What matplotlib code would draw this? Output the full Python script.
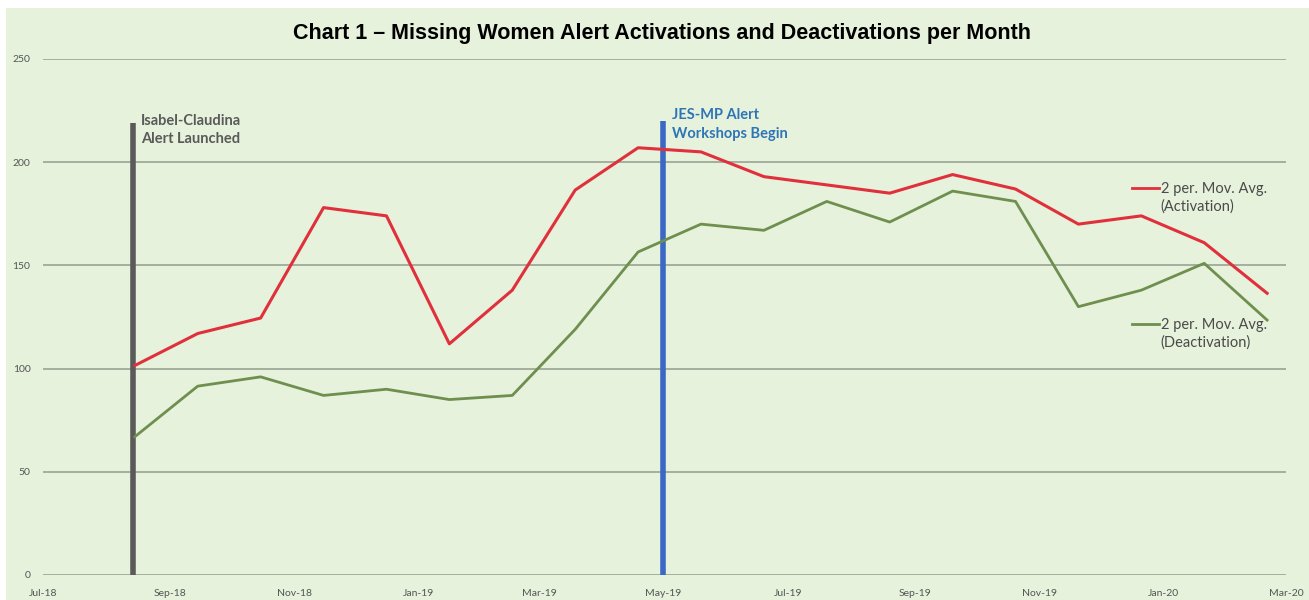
import matplotlib
matplotlib.use("Agg")

import matplotlib.pyplot as plt
import matplotlib.dates as mdates
import pandas as pd

# --- data ---
months = [
    "Aug-18", "Sep-18", "Oct-18", "Nov-18", "Dec-18",
    "Jan-19", "Feb-19", "Mar-19", "Apr-19", "May-19",
    "Jun-19", "Jul-19", "Aug-19", "Sep-19", "Oct-19",
    "Nov-19", "Dec-19", "Jan-20", "Feb-20",
]
activation_avg = [101.5, 117, 124.5, 178, 174, 112, 138, 186.5, 207, 205,
                  193, 189, 185, 194, 187, 170, 174, 161, 136.5]
deactivation_avg = [67, 91.5, 96, 87, 90, 85, 87, 119, 156.5, 170,
                    167, 181, 171, 186, 181, 130, 138, 151, 123.5]

events = ["Isabel-Claudina\nAlert Launched", "JES-MP Alert\nWorkshops Begin"]
event_dates = ["2018-08-14", "2019-05-01"]
event_tops = [219, 220]

BG = "#e6f2dc"
RED = "#e0303c"
GREEN = "#6e8f4e"
GRID = "#9aa393"
TICK = "#555555"
LABEL = "#4a4a4a"

ev_dates = pd.to_datetime(event_dates)

fig = plt.figure(figsize=(13.09, 6.0), dpi=100, facecolor=BG)
L, R, B, T = 43, 1286, 575, 59
ax = fig.add_axes([L / 1309, (600 - B) / 600, (R - L) / 1309, (B - T) / 600])
ax.set_facecolor(BG)

# white strips at the top and left edges like the scanned original
fig.patches.append(plt.Rectangle((0, 1 - 8 / 600), 1, 8 / 600, transform=fig.transFigure,
                                 facecolor="white", edgecolor="none", zorder=-1))
fig.patches.append(plt.Rectangle((0, 0), 6 / 1309, 1, transform=fig.transFigure,
                                 facecolor="white", edgecolor="none", zorder=-1))

ax.set_xlim(pd.Timestamp("2018-07-01"), pd.Timestamp("2020-03-01"))
ax.set_ylim(0, 250)
ax.set_yticks([0, 50, 100, 150, 200, 250])
ax.xaxis.set_major_locator(mdates.MonthLocator(bymonth=[1, 3, 5, 7, 9, 11]))
ax.xaxis.set_major_formatter(mdates.DateFormatter("%b-%y"))

# the moving-average series sit on their own evenly spaced category axis
ax2 = ax.twiny()
ax2.set_ylim(0, 250)
ax2.axis("off")
ax2.plot(months, activation_avg, color=RED, lw=2.2, zorder=3)
ax2.plot(months, deactivation_avg, color=GREEN, lw=2.0, zorder=3)
ax2.set_xlim(-1.46, 18.3)

# event markers
colors = ["#5a5a5a", "#3a68c4"]
text_colors = ["#5a5a5a", "#2e75b6"]
for d, top, lab, c, tc, y in zip(ev_dates, event_tops, events, colors, text_colors, [215.6, 218.3]):
    ax.vlines(d, 0, top, color=c, lw=4, zorder=4)
    ax.text(d + pd.Timedelta(days=4), y, lab, color=tc, fontsize=10.5, fontweight="bold",
            family="Lato", va="center", ha="left", linespacing=1.4)

# series labels with short leader dashes
lab_x = 16.31
ax2.plot([lab_x - 0.46, lab_x - 0.03], [187.5, 187.5], color=RED, lw=2, clip_on=False)
ax2.text(lab_x, 182.6, "2 per. Mov. Avg.\n(Activation)", color=LABEL, fontsize=10.5,
         family="Lato", va="center", ha="left", linespacing=1.3)
ax2.plot([lab_x - 0.46, lab_x - 0.03], [121.6, 121.6], color=GREEN, lw=2, clip_on=False)
ax2.text(lab_x, 117, "2 per. Mov. Avg.\n(Deactivation)", color=LABEL, fontsize=10.5,
         family="Lato", va="center", ha="left", linespacing=1.3)

ax.grid(axis="y", color=GRID, lw=1.2)
ax.set_axisbelow(True)
for s in ax.spines.values():
    s.set_visible(False)
ax.tick_params(length=0, colors=TICK, labelsize=7.5)
ax.tick_params(axis="x", pad=10)
ax.tick_params(axis="y", pad=9)
for lab in ax.get_xticklabels() + ax.get_yticklabels():
    lab.set_family("Lato")

fig.text(0.506, 0.945, "Chart 1 \u2013 Missing Women Alert Activations and Deactivations per Month",
         ha="center", va="center", fontsize=15.5, fontweight="bold", family="Liberation Sans")

fig.savefig("out.png", dpi=100, facecolor=BG)
